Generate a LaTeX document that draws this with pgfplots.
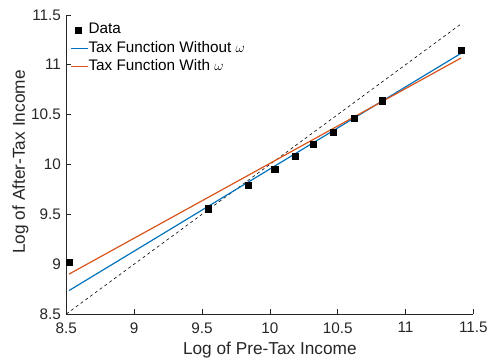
\documentclass[border=0pt]{standalone}
\usepackage{pgfplots}
\pgfplotsset{compat=1.18}
\usepackage{fontspec}
\setmainfont{Liberation Sans}
\definecolor{mblue}{rgb}{0,0.447,0.741}
\definecolor{morange}{rgb}{0.85,0.325,0.098}
\definecolor{axgray}{rgb}{0.15,0.15,0.15}
\pgfplotsset{
  lineleg/.style={legend image code/.code={\draw[##1] (0bp,0bp) -- (17bp,0bp);}},
  markleg/.style={legend image code/.code={\path[draw=none,fill=none] (0bp,0bp) -- (17bp,0bp);\draw[##1] plot coordinates {(7bp,0bp)};}},
}
\begin{document}
\begin{tikzpicture}
\begin{axis}[
  name=ax,
  scale only axis,
  width=411bp, height=302bp,
  xmin=8.5, xmax=11.5, ymin=8.5, ymax=11.5,
  xtick={8.5,9,...,11.5}, ytick={8.5,9,...,11.5},
  axis x line*=bottom, axis y line*=left,
  axis line style={-, draw=axgray, line width=0.5pt},
  tick style={draw=axgray, line width=0.5pt},
  tick align=inside,
  major tick length=4.5bp,
  /pgf/number format/assume math mode=true,
  /pgf/number format/fixed,
  ticklabel style={font=\fontsize{15.5}{18}\selectfont, text=axgray},
  xticklabel style={yshift=-5bp},
  yticklabel style={xshift=-2bp},
  label style={font=\fontsize{17.5}{20}\selectfont, text=axgray},
  xlabel={Log of Pre-Tax Income},
  ylabel={Log of After-Tax Income},
  xlabel style={at={(axis description cs:0.5,-0.1358)}, anchor=base},
  ylabel style={at={(axis description cs:-0.102,0.508)}, anchor=base},
  legend style={draw=none, fill=none, at={(axis description cs:0.0097,0.977)}, anchor=north west,
    font=\fontsize{15.5}{18}\selectfont, row sep=2.5bp, inner sep=0bp,
    nodes={inner sep=0bp, text height=12bp, text depth=4bp},
    /tikz/every even column/.append style={column sep=1bp}},
  legend cell align=left,
  clip=false,
]
\addplot[black, dashed, line width=0.6pt, forget plot] coordinates {(8.5,8.5) (11.41,11.41)};
\addplot[only marks, mark=square*, mark size=3.1bp, black, markleg] coordinates {
 (8.52,9.02) (9.544,9.556) (9.841,9.788) (10.035,9.953) (10.184,10.079)
 (10.322,10.205) (10.464,10.325) (10.622,10.46) (10.828,10.639) (11.41,11.142)};
\addlegendentry{Data}
\addplot[mblue, line width=1.2pt, lineleg] coordinates {(8.52,8.735) (11.41,11.115)};
\addlegendentry{Tax Function Without $\omega$}
\addplot[morange, line width=1.2pt, lineleg] coordinates {(8.52,8.90) (11.41,11.068)};
\addlegendentry{Tax Function With $\omega$}
\end{axis}
\useasboundingbox ([xshift=-67bp,yshift=-49bp]ax.south west) rectangle ([xshift=13bp,yshift=15bp]ax.north east);
\end{tikzpicture}
\end{document}
